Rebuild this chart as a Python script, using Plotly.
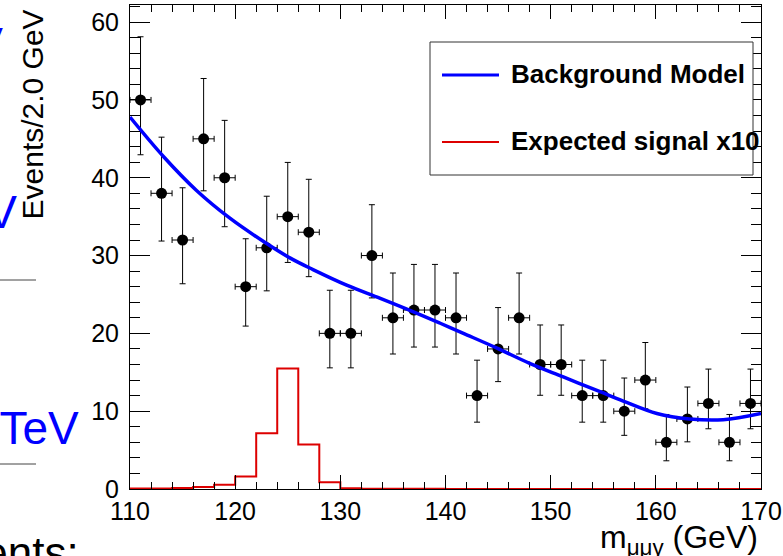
import math
import plotly.graph_objects as go

# ---------------- data ----------------
bin_centers = [111, 113, 115, 117, 119, 121, 123, 125, 127, 129,
               131, 133, 135, 137, 139, 141, 143, 145, 147, 149,
               151, 153, 155, 157, 159, 161, 163, 165, 167, 169]
counts = [50, 38, 32, 45, 40, 26, 31, 35, 33, 20,
          20, 30, 22, 23, 23, 22, 12, 18, 22, 16,
          16, 12, 12, 10, 14, 6, 9, 11, 6, 11]
bin_half_width = 1.0

# expected signal x10 (2 GeV bins from 110 to 170)
sig_edges = [110 + 2 * i for i in range(31)]
sig_values = [0.05, 0.05, 0.13, 0.26, 0.56, 1.6, 7.15, 15.5, 5.73, 0.86,
              0.09, 0.04, 0.03, 0.02, 0.02, 0.01, 0.01, 0.01, 0.01, 0.01,
              0.01, 0.01, 0.01, 0.01, 0.01, 0.01, 0.01, 0.01, 0.01, 0.01]

# background model curve
bkg_x = [110, 113.2, 116.3, 119.5, 122.7, 125.2, 127.4, 130.6, 133.8, 136.9,
         139.5, 141.7, 144.9, 148.0, 151.2, 154.7, 156.9, 160.1, 163.2, 166.4, 170]
bkg_y = [47.8, 42.7, 38.4, 34.8, 31.8, 29.7, 28.2, 26.2, 24.5, 22.8,
         21.3, 20.0, 18.1, 16.15, 14.4, 12.5, 11.3, 9.7, 9.0, 8.9, 9.7]

x_ticks = [110, 120, 130, 140, 150, 160, 170]
y_ticks = [0, 10, 20, 30, 40, 50, 60]


# Poisson (Garwood) 68% interval, Wilson-Hilferty form
def poisson_interval(n):
    if n == 0:
        lo = 0.0
    else:
        lo = n * (1 - 1 / (9 * n) - 1 / (3 * math.sqrt(n))) ** 3
    m = n + 1
    hi = m * (1 - 1 / (9 * m) + 1 / (3 * math.sqrt(m))) ** 3
    return lo, hi


err_lo, err_hi = [], []
for n in counts:
    lo, hi = poisson_interval(n)
    err_lo.append(n - lo)
    err_hi.append(hi - n)

# ---------------- layout helpers ----------------
W, H = 783, 556
L, R, T, B = 130, 22, 5, 67
PW, PH = W - L - R, H - T - B


def px(xpix):
    return (xpix - L) / PW


def py(ypix):
    return (H - B - ypix) / PH


FONT = "Liberation Sans, Arial, Helvetica, sans-serif"
RED = "#dd0000"
BLUE = "#0000ff"

fig = go.Figure()

# signal histogram
fig.add_trace(go.Scatter(
    x=sig_edges, y=sig_values + [sig_values[-1]],
    mode="lines", line=dict(color=RED, width=2, shape="hv"),
    showlegend=False, hoverinfo="skip"))

# data points
fig.add_trace(go.Scatter(
    x=bin_centers, y=counts, mode="markers",
    marker=dict(color="black", size=11, symbol="circle"),
    error_y=dict(type="data", symmetric=False, array=err_hi, arrayminus=err_lo,
                 color="black", thickness=1, width=3),
    error_x=dict(type="constant", value=bin_half_width,
                 color="black", thickness=1, width=3),
    showlegend=False))

# background model
fig.add_trace(go.Scatter(
    x=bkg_x, y=bkg_y, mode="lines",
    line=dict(color=BLUE, width=3.5, shape="spline", smoothing=1.0),
    showlegend=False, hoverinfo="skip"))

axis_common = dict(
    showline=True, linecolor="black", linewidth=1, mirror="allticks",
    ticks="inside", tickcolor="black", tickwidth=1,
    showgrid=False, zeroline=False,
    tickfont=dict(family=FONT, size=25, color="black"),
)

fig.update_xaxes(range=[110, 170], tickvals=x_ticks, ticklen=14,
                 minor=dict(dtick=2, tick0=110, ticks="inside", ticklen=7,
                            tickcolor="black", showgrid=False),
                 **axis_common)
fig.update_yaxes(range=[0, 62.2], tickvals=y_ticks, ticklen=20,
                 ticklabelstandoff=5,
                 minor=dict(dtick=2, tick0=0, ticks="inside", ticklen=10,
                            tickcolor="black", showgrid=False),
                 **axis_common)

shapes = []
annotations = []

# legend box
shapes.append(dict(type="rect", xref="paper", yref="paper",
                   x0=px(430), x1=px(753), y0=py(175), y1=py(42),
                   line=dict(color="#333333", width=1), fillcolor="white",
                   layer="above"))
shapes.append(dict(type="line", xref="paper", yref="paper",
                   x0=px(442), x1=px(499), y0=py(75), y1=py(75),
                   line=dict(color=BLUE, width=3), layer="above"))
shapes.append(dict(type="line", xref="paper", yref="paper",
                   x0=px(442), x1=px(499), y0=py(142), y1=py(142),
                   line=dict(color=RED, width=2), layer="above"))
annotations.append(dict(text="<b>Background Model</b>", xref="paper", yref="paper",
                        x=px(509), y=py(74), xanchor="left", yanchor="middle",
                        showarrow=False, font=dict(family=FONT, size=26, color="black")))
annotations.append(dict(text="<b>Expected signal x10</b>", xref="paper", yref="paper",
                        x=px(509), y=py(141), xanchor="left", yanchor="middle",
                        showarrow=False, font=dict(family=FONT, size=26, color="black")))

# axis titles
annotations.append(dict(text="Events/2.0 GeV", xref="paper", yref="paper",
                        x=px(13), y=py(8), xanchor="left", yanchor="top",
                        textangle=-90, showarrow=False,
                        font=dict(family=FONT, size=30, color="black")))
annotations.append(dict(text="m<sub>μμγ</sub> (GeV)", xref="paper", yref="paper",
                        x=px(760), y=py(539), xanchor="right", yanchor="middle",
                        showarrow=False, font=dict(family=FONT, size=32, color="black")))

# cut-off neighbouring text on the left
annotations.append(dict(text="GeV", xref="paper", yref="paper",
                        x=px(5), y=py(44), xanchor="right", yanchor="middle",
                        showarrow=False, font=dict(family=FONT, size=46, color=BLUE)))
annotations.append(dict(text="GeV", xref="paper", yref="paper",
                        x=px(19), y=py(212), xanchor="right", yanchor="middle",
                        showarrow=False, font=dict(family=FONT, size=46, color=BLUE)))
annotations.append(dict(text="8 TeV", xref="paper", yref="paper",
                        x=px(81), y=py(428), xanchor="right", yanchor="middle",
                        showarrow=False, font=dict(family=FONT, size=46, color=BLUE)))
annotations.append(dict(text="Events:", xref="paper", yref="paper",
                        x=px(81), y=py(552), xanchor="right", yanchor="middle",
                        showarrow=False, font=dict(family=FONT, size=44, color="black")))
for ly in (280, 464):
    shapes.append(dict(type="line", xref="paper", yref="paper",
                       x0=px(0), x1=px(36), y0=py(ly), y1=py(ly),
                       line=dict(color="#444444", width=1)))

fig.update_layout(
    width=W, height=H,
    margin=dict(l=L, r=R, t=T, b=B, autoexpand=False),
    paper_bgcolor="white", plot_bgcolor="white",
    shapes=shapes, annotations=annotations,
    showlegend=False,
)

fig.write_html(
    "out.html",
    config={"displayModeBar": False},
    post_script="document.body.style.margin='0';document.body.style.padding='0';"
                "document.body.style.overflow='hidden';",
)
